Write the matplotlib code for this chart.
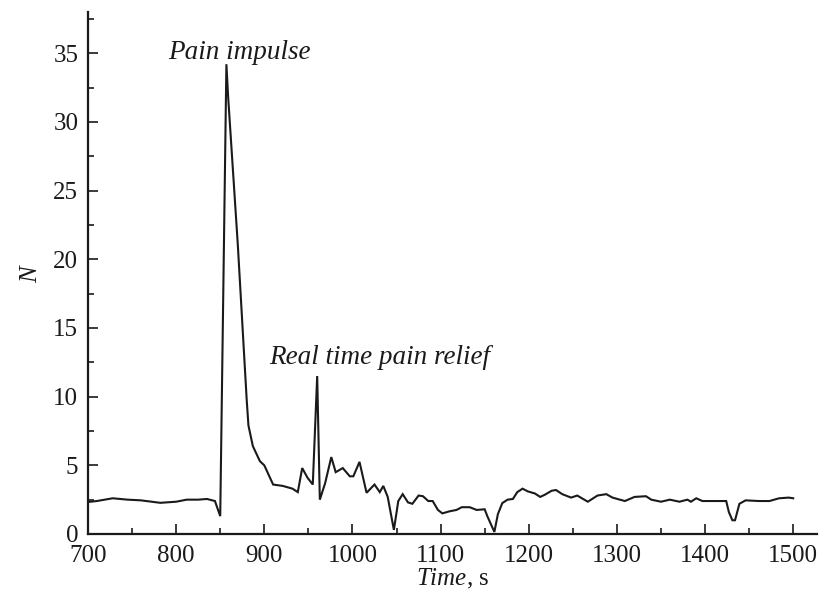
import matplotlib
matplotlib.use("Agg")
import matplotlib.pyplot as plt
from matplotlib.ticker import MultipleLocator

plt.rcParams['font.family'] = ['Liberation Serif', 'DejaVu Serif']
plt.rcParams['mathtext.fontset'] = 'custom'
plt.rcParams['mathtext.rm'] = 'Liberation Serif'
plt.rcParams['mathtext.it'] = 'Liberation Serif:italic'

time_s = [700, 710, 728, 745, 760, 782, 800, 812, 825, 835, 844, 850, 857, 859,
          870, 880, 882, 887, 895, 900, 910, 921, 932, 938, 943, 949, 955, 960,
          963, 969, 976, 981, 989, 997, 1001, 1008, 1016, 1025, 1031, 1035, 1040,
          1047, 1052, 1057, 1063, 1068, 1075, 1080, 1086, 1091, 1097, 1102, 1110,
          1118, 1124, 1133, 1141, 1150, 1153, 1161, 1165, 1170, 1176, 1182, 1187,
          1193, 1199, 1207, 1213, 1218, 1226, 1231, 1238, 1248, 1255, 1267, 1278,
          1288, 1295, 1309, 1320, 1333, 1339, 1350, 1360, 1371, 1380, 1384, 1390,
          1397, 1413, 1424, 1427, 1431, 1434, 1439, 1446, 1461, 1473, 1484, 1495,
          1500]
n_values = [2.33, 2.4, 2.6, 2.5, 2.45, 2.27, 2.35, 2.5, 2.5, 2.55, 2.4, 1.3, 34.2, 31.8,
            21.0, 9.8, 7.9, 6.4, 5.3, 5.0, 3.6, 3.5, 3.3, 3.05, 4.8, 4.1, 3.6, 11.5,
            2.5, 3.7, 5.6, 4.5, 4.8, 4.2, 4.2, 5.25, 3.0, 3.6, 3.05, 3.5, 2.7,
            0.3, 2.4, 2.9, 2.3, 2.2, 2.8, 2.75, 2.4, 2.4, 1.75, 1.5, 1.65,
            1.75, 1.95, 1.95, 1.75, 1.8, 1.3, 0.15, 1.45, 2.25, 2.5, 2.55, 3.05,
            3.3, 3.1, 2.95, 2.7, 2.85, 3.15, 3.2, 2.9, 2.65, 2.8, 2.35, 2.8,
            2.9, 2.65, 2.4, 2.7, 2.75, 2.5, 2.35, 2.5, 2.35, 2.5, 2.35, 2.6,
            2.4, 2.4, 2.4, 1.6, 1.0, 1.0, 2.2, 2.45, 2.4, 2.4, 2.6, 2.65,
            2.6]

annotations = [("Pain impulse", 791, 34.55), ("Real time pain relief", 905, 12.35)]

fig = plt.figure(figsize=(8.23, 5.99), dpi=100)
ax = fig.add_axes([88 / 823, 1 - 534 / 599, (817 - 88) / 823, (534 - 12) / 599])

ax.plot(time_s, n_values, color='#1a1a1a', lw=1.5, solid_joinstyle='miter')

ax.set_xlim(700, 1527)
ax.set_ylim(0, 38)
ax.xaxis.set_major_locator(MultipleLocator(100))
ax.xaxis.set_minor_locator(MultipleLocator(50))
ax.yaxis.set_major_locator(MultipleLocator(5))
ax.yaxis.set_minor_locator(MultipleLocator(2.5))

for s in ['top', 'right']:
    ax.spines[s].set_visible(False)
for s in ['left', 'bottom']:
    ax.spines[s].set_linewidth(1.6)
    ax.spines[s].set_color('#1a1a1a')

ax.tick_params(which='major', direction='in', length=7, width=1.2, labelsize=18,
               colors='#1a1a1a')
ax.tick_params(which='minor', direction='in', length=4.5, width=1.2, colors='#1a1a1a')
ax.tick_params(axis='x', which='major', pad=8)
ax.tick_params(axis='y', which='major', pad=7)

for txt, x, y in annotations:
    ax.text(x, y, txt, fontsize=19.5, style='italic', color='#1a1a1a', ha='left', va='baseline')

ax.set_xlabel(r"$\mathit{Time}$, s", fontsize=18, color='#1a1a1a', labelpad=0)
ax.set_ylabel(r"$\mathit{N}$", fontsize=18, color='#1a1a1a', labelpad=8)

fig.savefig("out.png", dpi=100)
